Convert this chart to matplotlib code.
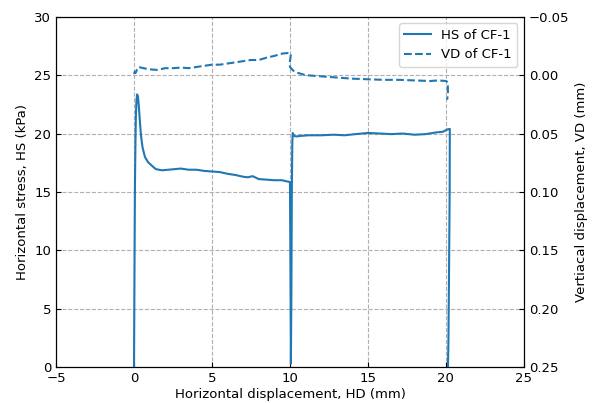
import matplotlib
matplotlib.use("Agg")
import matplotlib.pyplot as plt
import numpy as np

# Horizontal stress (HS) vs horizontal displacement (HD)
hd = [0.0, 0.03, 0.06, 0.09, 0.12, 0.16, 0.2, 0.25, 0.3, 0.38, 0.45, 0.55, 0.7, 0.9, 1.1, 1.4,
      1.8, 2.2, 2.6, 3.0, 3.5, 4.0, 4.5, 5.0, 5.5, 6.0, 6.5, 7.0, 7.3, 7.6, 8.0, 8.5, 9.0,
      9.5, 9.8, 10.0, 10.03, 10.06, 10.09, 10.12, 10.15, 10.18, 10.25, 10.4, 10.7, 11.2, 12.0,
      12.8, 13.5, 14.2, 15.0, 15.8, 16.5, 17.2, 18.0, 18.7, 19.4, 19.8, 20.1, 20.25, 20.24,
      20.2, 20.16, 20.13]
hs = [0.0, 8.0, 15.5, 19.0, 21.5, 22.9, 23.35, 23.2, 22.5, 21.0, 19.8, 18.8, 18.0, 17.55, 17.3, 16.95,
      16.85, 16.9, 16.95, 17.0, 16.9, 16.9, 16.8, 16.75, 16.7, 16.55, 16.45, 16.3, 16.25, 16.35, 16.1, 16.05, 16.0,
      16.0, 15.9, 15.85, 9.0, 0.3, 6.0, 15.0, 19.2, 20.05, 19.8, 19.75, 19.8, 19.85, 19.85,
      19.9, 19.85, 19.95, 20.05, 20.0, 19.95, 20.0, 19.9, 19.95, 20.1, 20.15, 20.35, 20.4, 15.0,
      8.0, 2.0, 0.0]

# Vertical displacement (VD) vs horizontal displacement (HD)
vx = [0.0, 0.05, 0.1, 0.2, 0.3, 0.6, 1.0, 1.5, 2.0, 2.5, 3.0, 3.5, 4.0, 4.5, 5.0, 5.5, 6.0, 6.5,
      7.0, 7.5, 8.0, 8.5, 9.0, 9.5, 9.9, 10.02, 10.05, 9.98, 10.0, 10.2, 10.5, 11.0, 11.5, 12.0,
      13.0, 14.0, 15.0, 16.0, 17.0, 18.0, 19.0, 19.5, 20.0, 20.12, 20.13, 20.08]
vd = [-0.001, -0.003, -0.002, -0.005, -0.007, -0.006, -0.005, -0.0045, -0.006, -0.006, -0.0065, -0.006,
      -0.007, -0.008, -0.009, -0.009, -0.010, -0.011, -0.012, -0.013, -0.013, -0.015, -0.0165, -0.0185,
      -0.019, -0.019, -0.017, -0.010, -0.007, -0.004, -0.002, 0.000, 0.0005, 0.001, 0.002, 0.003,
      0.0035, 0.004, 0.004, 0.0045, 0.005, 0.0045, 0.005, 0.006, 0.015, 0.021]

vd_ticks = [-0.05, 0.0, 0.05, 0.10, 0.15, 0.20, 0.25]

color = "#1f77b4"
fs = 9.5

fig = plt.figure(figsize=(5.96, 4.03), dpi=100)
ax = fig.add_axes([0.094, 0.0893, 0.785, 0.869])
ax2 = ax.twinx()

l1, = ax.plot(hd, hs, color=color, lw=1.5, label="HS of CF-1")
l2, = ax2.plot(vx, vd, color=color, lw=1.5, ls="--", label="VD of CF-1")

ax.set_xlim(-5, 25)
ax.set_ylim(0, 30)
ax.set_xticks(np.arange(-5, 26, 5))
ax.set_yticks(np.arange(0, 31, 5))
ax2.set_ylim(0.25, -0.05)
ax2.set_yticks(vd_ticks)
ax2.set_yticklabels([("%.2f" % v).replace("-", "\u2212") for v in vd_ticks])

ax.grid(True, color="#b0b0b0", ls="--", lw=0.8)
ax.tick_params(direction="in", labelsize=fs)
ax2.tick_params(direction="in", labelsize=fs)

ax.set_xlabel("Horizontal displacement, HD (mm)", fontsize=fs, labelpad=2)
ax.set_ylabel("Horizontal stress, HS (kPa)", fontsize=fs)
ax2.set_ylabel("Vertiacal displacement, VD (mm)", fontsize=fs)

ax2.legend([l1, l2], ["HS of CF-1", "VD of CF-1"], loc="upper right", fontsize=fs)

fig.savefig("out.png", dpi=100)
